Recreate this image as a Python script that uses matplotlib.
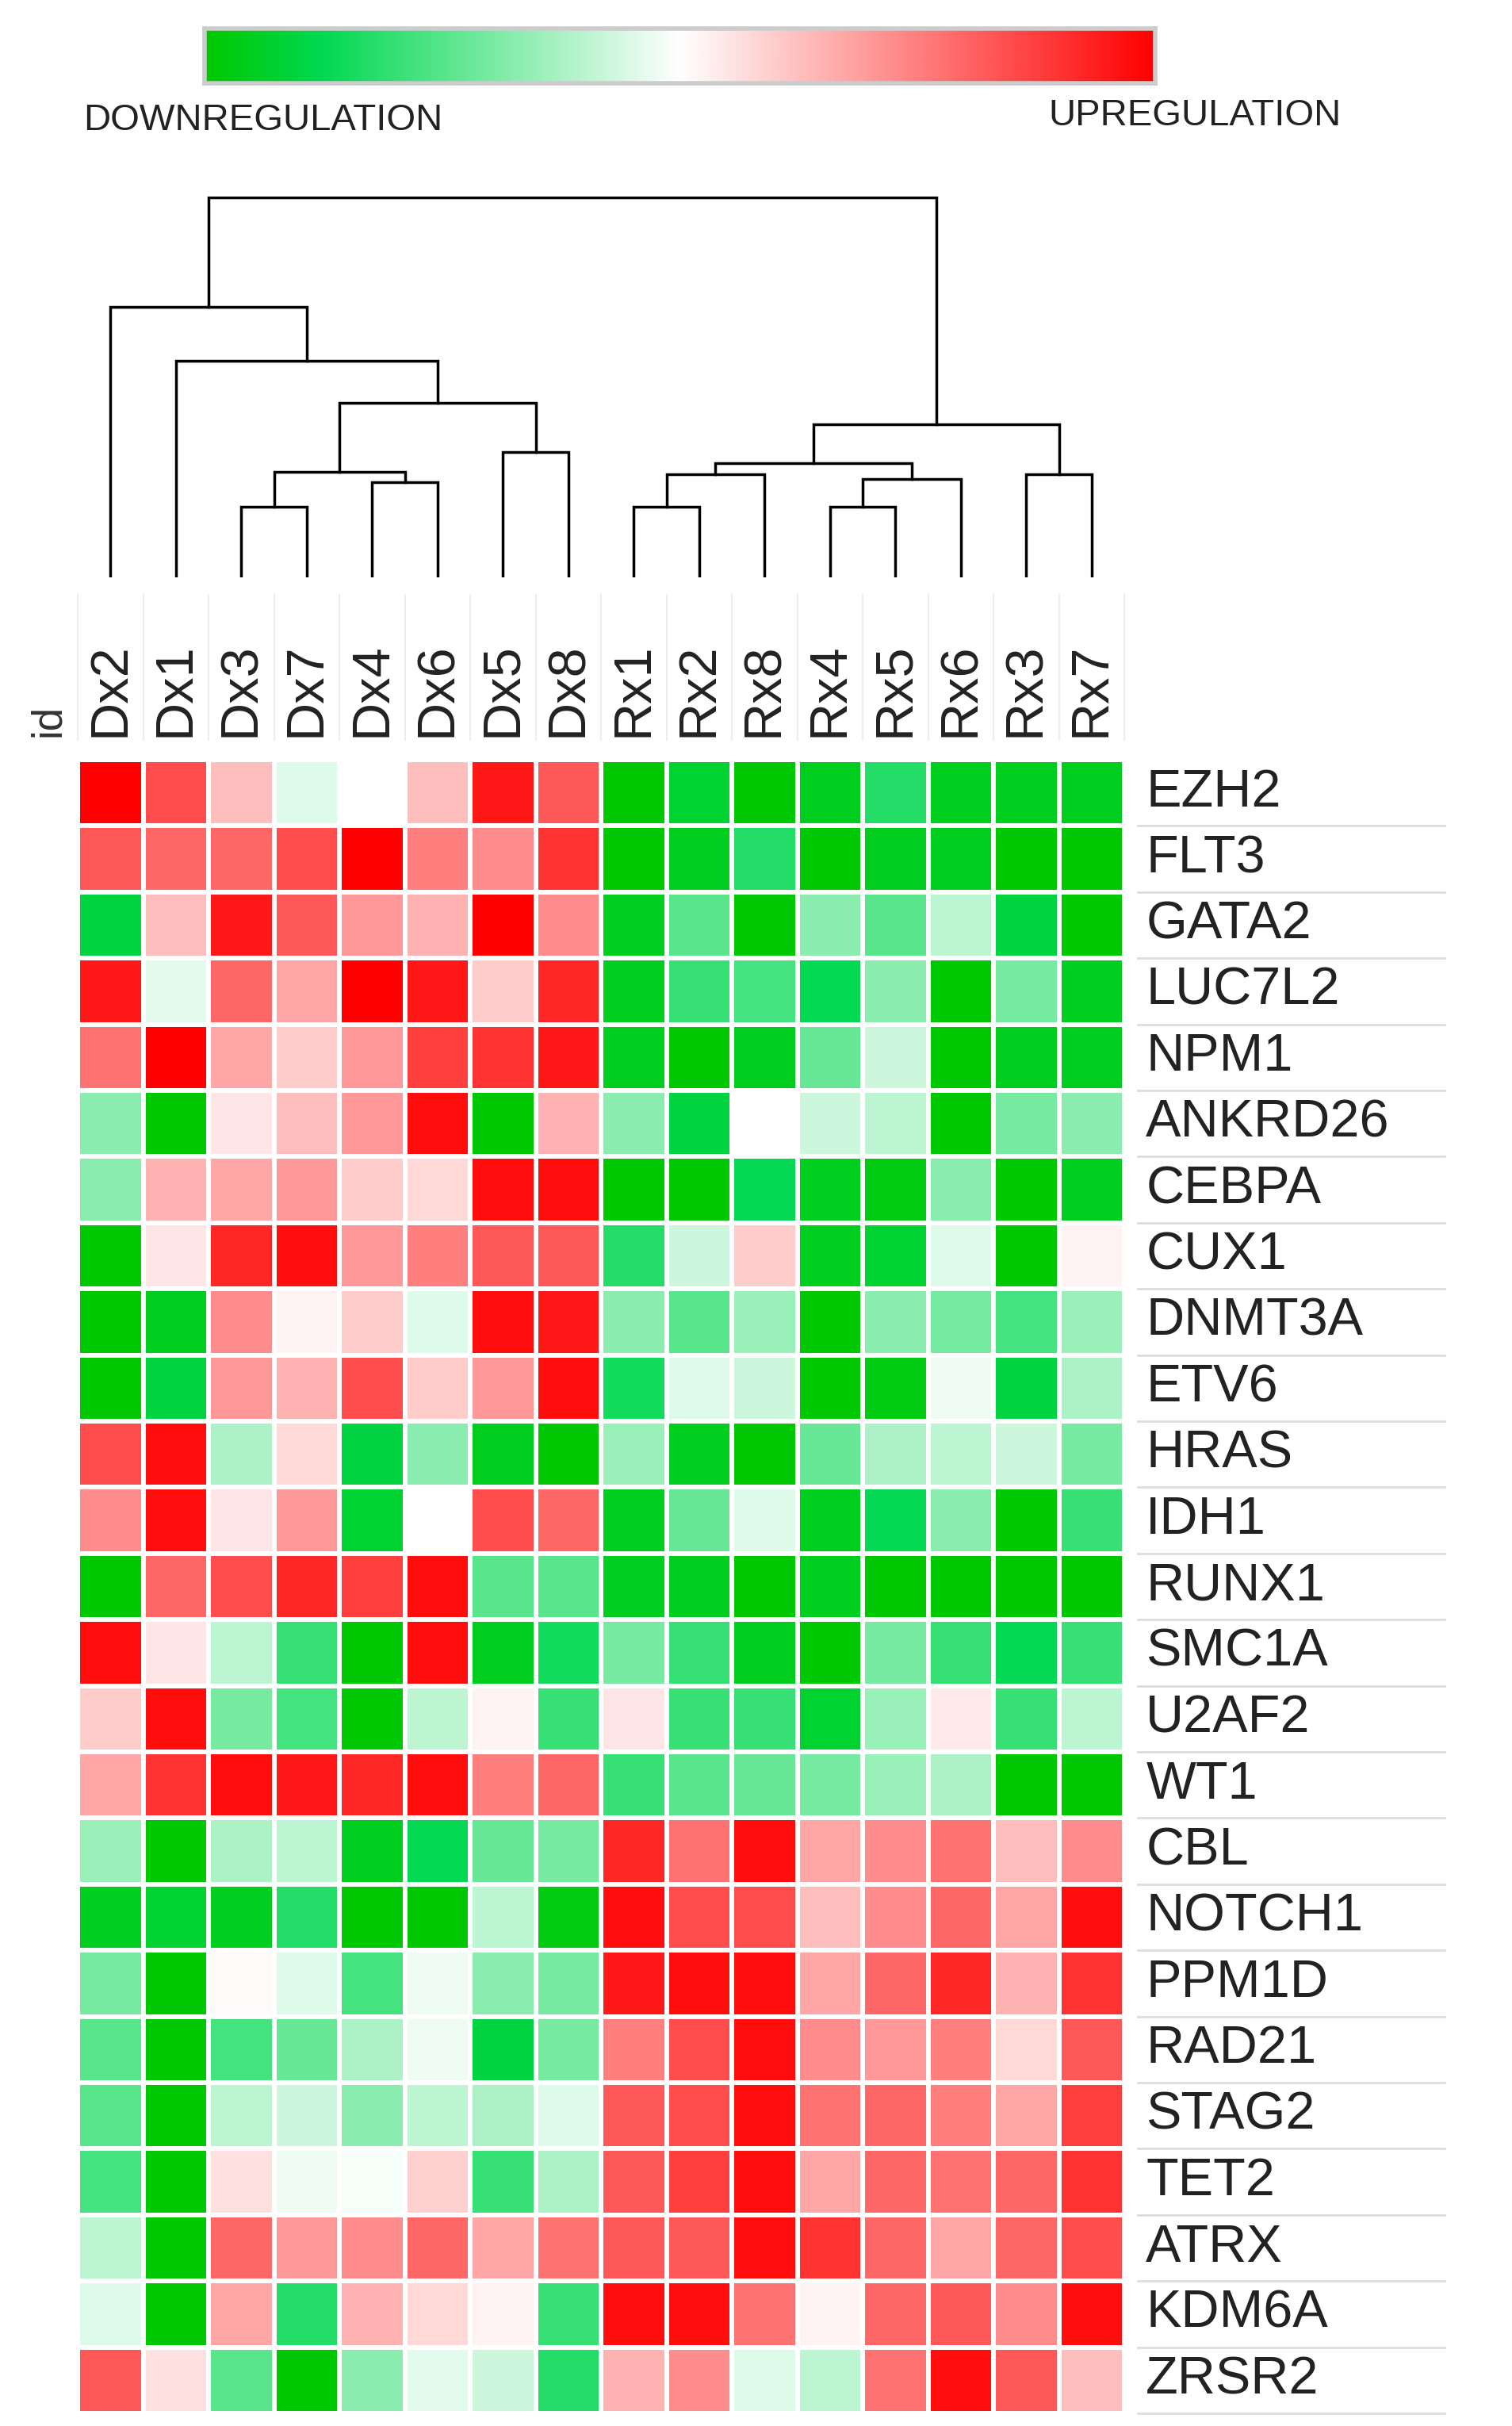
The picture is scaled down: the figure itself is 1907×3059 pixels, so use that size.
import numpy as np
import matplotlib
matplotlib.use("Agg")
import matplotlib.pyplot as plt
from matplotlib.colors import LinearSegmentedColormap

plt.rcParams['font.family'] = ['Liberation Sans', 'DejaVu Sans']

samples = ["Dx2","Dx1","Dx3","Dx7","Dx4","Dx6","Dx5","Dx8","Rx1","Rx2","Rx8","Rx4","Rx5","Rx6","Rx3","Rx7"]
genes = ["EZH2","FLT3","GATA2","LUC7L2","NPM1","ANKRD26","CEBPA","CUX1","DNMT3A","ETV6","HRAS","IDH1",
         "RUNX1","SMC1A","U2AF2","WT1","CBL","NOTCH1","PPM1D","RAD21","STAG2","TET2","ATRX","KDM6A","ZRSR2"]
values = [
 [1.0,.7,.25,-.1,0.0,.25,.9,.65, -1,-.85,-1,-.9,-.65,-.9,-.9,-.9],
 [.65,.6,.6,.7,1.0,.5,.45,.8, -1,-.9,-.65,-1,-.9,-.9,-1,-1],
 [-.8,.25,.9,.65,.4,.3,1.0,.45, -.9,-.5,-1,-.35,-.5,-.2,-.8,-1],
 [.9,-.08,.6,.35,1.0,.9,.2,.85, -.9,-.6,-.55,-.75,-.35,-1,-.4,-.9],
 [.55,1.0,.35,.2,.4,.75,.8,.9, -.9,-1,-.9,-.45,-.15,-1,-.9,-.9],
 [-.35,-1,.1,.25,.4,.95,-1,.3, -.35,-.8,0.0,-.15,-.2,-1,-.4,-.35],
 [-.35,.3,.35,.4,.2,.15,.95,.95, -1,-1,-.75,-.9,-.95,-.35,-1,-.9],
 [-1,.1,.85,.95,.4,.5,.65,.65, -.65,-.15,.2,-.9,-.85,-.1,-1,.05],
 [-1,-.9,.45,.05,.2,-.1,.95,.9, -.35,-.5,-.3,-1,-.35,-.4,-.55,-.3],
 [-1,-.8,.4,.3,.7,.2,.4,.95, -.7,-.1,-.15,-1,-.95,-.05,-.8,-.25],
 [.7,.95,-.25,.15,-.8,-.35,-.9,-1, -.3,-.9,-1,-.45,-.25,-.2,-.15,-.4],
 [.45,.95,.1,.4,-.85,0.0,.7,.6, -.9,-.45,-.1,-.9,-.75,-.35,-1,-.6],
 [-1,.6,.7,.85,.75,.95,-.5,-.5, -.9,-.9,-1,-.9,-1,-1,-1,-1],
 [.95,.1,-.2,-.6,-1,.95,-.9,-.7, -.4,-.6,-.9,-1,-.4,-.6,-.75,-.6],
 [.2,.95,-.4,-.55,-1,-.2,.05,-.6, .1,-.6,-.6,-.85,-.3,.08,-.6,-.2],
 [.35,.8,.95,.9,.85,.95,.5,.6, -.6,-.5,-.45,-.4,-.3,-.25,-1,-1],
 [-.3,-1,-.25,-.2,-.9,-.75,-.45,-.4, .85,.55,.95,.35,.45,.55,.25,.45],
 [-.9,-.85,-.9,-.65,-1,-1,-.2,-.95, .95,.7,.7,.25,.45,.6,.35,.95],
 [-.4,-1,.02,-.1,-.55,-.05,-.35,-.4, .9,.95,.95,.35,.6,.85,.3,.8],
 [-.5,-1,-.55,-.45,-.25,-.05,-.8,-.4, .5,.7,.95,.45,.4,.5,.15,.65],
 [-.5,-1,-.2,-.15,-.35,-.2,-.25,-.1, .65,.7,.95,.55,.6,.5,.35,.75],
 [-.55,-1,.12,-.05,-.03,.18,-.6,-.25, .65,.75,.95,.35,.6,.55,.6,.8],
 [-.2,-1,.6,.4,.45,.6,.35,.55, .65,.65,.95,.8,.6,.35,.6,.7],
 [-.1,-1,.35,-.65,.3,.15,.05,-.6, .95,.95,.55,.05,.6,.65,.45,.95],
 [.65,.12,-.5,-1,-.35,-.08,-.15,-.65, .3,.45,-.1,-.2,.55,.95,.65,.25],
]
# dendrogram merges: (left node, right node, height); leaves 0..15, new nodes 16..
merges = [
 (2,3,143),(4,5,193),(16,17,213),(6,7,253),(18,19,353),(1,20,438),(0,21,546),
 (8,9,143),(23,10,208),(11,12,143),(25,13,198),(24,26,231),(14,15,208),(27,28,310),
 (22,29,768),
]

W, H = 1907, 3059
fig = plt.figure(figsize=(W/100, H/100), dpi=100)
cmap = LinearSegmentedColormap.from_list("gwr", ["#00c800", "#00dd55", "#ffffff", "#ff0000"], N=256)
cmap = LinearSegmentedColormap.from_list("gwr", [(0, "#00c800"), (0.12, "#00d850"), (0.5, "#ffffff"), (1, "#ff0000")])

def px_axes(l, t, r, b):
    return fig.add_axes([l/W, 1-b/H, (r-l)/W, (b-t)/H])

# heatmap
hx0, hy0, cw, ch = 98, 958, 82.5, 83.4
nr, nc = len(genes), len(samples)
ax = px_axes(hx0, hy0, hx0+cw*nc, hy0+ch*nr)
ax.pcolormesh(np.arange(nc+1), np.arange(nr+1), np.array(values), cmap=cmap, vmin=-1, vmax=1,
              edgecolors='white', linewidth=3)
ax.set_xlim(0, nc); ax.set_ylim(nr, 0); ax.axis('off')
for i, g in enumerate(genes):
    ax.text(16.33, i+0.5, g, fontsize=48, va='center', ha='left', color='#222222')
    ax.plot([16.2, 20.9], [i+1, i+1], color='#dddddd', lw=2, clip_on=False)
for j, s in enumerate(samples):
    ax.text(j+0.5, -0.35, s, rotation=90, fontsize=48, ha='center', va='bottom', color='#222222')
for j in range(nc+1):
    ax.plot([j, j], [-0.3, -2.5], color='#eeeeee', lw=1.5, clip_on=False)
ax.text(-0.45, -0.35, "id", rotation=90, fontsize=38, ha='center', va='bottom', color='#333333')

# dendrogram
dax = px_axes(hx0, 235, hx0+cw*nc, 728)
pos = {i: (i+0.5, 0.0) for i in range(nc)}
for k, (a, b, h) in enumerate(merges):
    xa, ha_ = pos[a]; xb, hb = pos[b]
    dax.plot([xa, xa, xb, xb], [ha_, h, h, hb], color='black', lw=2.5, solid_joinstyle='miter')
    pos[nc+k] = ((xa+xb)/2, h)
dax.set_xlim(0, nc); dax.set_ylim(0, 790); dax.axis('off')

# colour bar
cax = px_axes(258, 36, 1457, 105)
cax.imshow(np.linspace(-1, 1, 512)[None, :], aspect='auto', cmap=cmap, vmin=-1, vmax=1)
cax.set_xticks([]); cax.set_yticks([])
for sp in cax.spines.values():
    sp.set_color('#cccccc'); sp.set_linewidth(4)
fig.text(105/W, 1-152/H, "DOWNREGULATION", fontsize=34, va='center', ha='left', color='#222222')
fig.text(1692/W, 1-146/H, "UPREGULATION", fontsize=34, va='center', ha='right', color='#222222')

fig.savefig("out.png", dpi=100)
